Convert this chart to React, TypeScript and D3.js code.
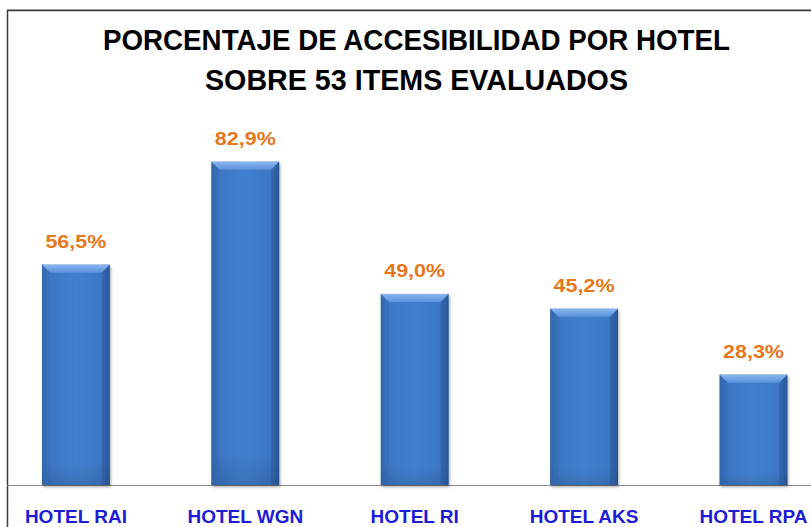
import React from "react";
import * as d3 from "d3";

const categories = ["HOTEL RAI", "HOTEL WGN", "HOTEL RI", "HOTEL AKS", "HOTEL RPA"];
const values = [56.5, 82.9, 49.0, 45.2, 28.3];
const valueLabels = ["56,5%", "82,9%", "49,0%", "45,2%", "28,3%"];
const titleLines = ["PORCENTAJE DE ACCESIBILIDAD POR HOTEL", "SOBRE 53 ITEMS EVALUADOS"];

const W = 811;
const H = 527;
const BASE = 485;

export default function App() {
  const x = d3
    .scaleBand<string>()
    .domain(categories)
    .range([-8.8, 838.2])
    .paddingInner(0.6)
    .paddingOuter(0.3);
  const y = d3.scaleLinear().domain([0, 100]).range([BASE, 95]);
  const bw = x.bandwidth();
  const bev = 8;
  const font = "'Liberation Sans', Arial, sans-serif";

  return (
    <div style={{ position: "fixed", left: 0, top: 0, width: W, height: H, background: "#fff" }}>
      <svg width={W} height={H} style={{ display: "block" }}>
        <defs>
          <linearGradient id="barH" x1="0" x2="1" y1="0" y2="0">
            <stop offset="0" stopColor="#2f63a8" />
            <stop offset="0.08" stopColor="#3c76c3" />
            <stop offset="0.5" stopColor="#4080cf" />
            <stop offset="0.92" stopColor="#3c76c3" />
            <stop offset="1" stopColor="#2c5c9e" />
          </linearGradient>
          <linearGradient id="barV" x1="0" x2="0" y1="0" y2="1">
            <stop offset="0" stopColor="#ffffff" stopOpacity="0" />
            <stop offset="0.9" stopColor="#000000" stopOpacity="0" />
            <stop offset="1" stopColor="#000000" stopOpacity="0.12" />
          </linearGradient>
          <linearGradient id="bevTop" x1="0" x2="0" y1="0" y2="1">
            <stop offset="0" stopColor="#8ab6ee" />
            <stop offset="1" stopColor="#5a92dc" />
          </linearGradient>
          <filter id="shadow" x="-20%" y="-10%" width="140%" height="130%">
            <feGaussianBlur in="SourceAlpha" stdDeviation="1.5" />
            <feOffset dx="1" dy="2" result="b" />
            <feComponentTransfer>
              <feFuncA type="linear" slope="0.35" />
            </feComponentTransfer>
            <feMerge>
              <feMergeNode />
              <feMergeNode in="SourceGraphic" />
            </feMerge>
          </filter>
        </defs>

        {/* chart frame */}
        <line x1={7} x2={W} y1={9.5} y2={9.5} stroke="#bdbdbd" strokeWidth={1} />
        <rect x={7.5} y={10.5} width={W + 10} height={H + 10} fill="none" stroke="#3a3a3a" strokeWidth={1.5} />

        {/* title */}
        <text x={416.5} y={49.5} textAnchor="middle" fontFamily={font} fontWeight="bold" fontSize={29}
          textLength={627} lengthAdjust="spacingAndGlyphs" fill="#000">
          {titleLines[0]}
        </text>
        <text x={416.5} y={90} textAnchor="middle" fontFamily={font} fontWeight="bold" fontSize={29}
          textLength={423} lengthAdjust="spacingAndGlyphs" fill="#000">
          {titleLines[1]}
        </text>

        {/* axis line */}
        <line x1={7} x2={W} y1={BASE + 0.5} y2={BASE + 0.5} stroke="#8c8c8c" strokeWidth={1.2} />

        {/* bars */}
        {categories.map((c, i) => {
          const x0 = x(c)!;
          const top = y(values[i]);
          const h = BASE - top;
          return (
            <g key={c} filter="url(#shadow)">
              <rect x={x0} y={top} width={bw} height={h} fill="url(#barH)" />
              <rect x={x0} y={top} width={bw} height={h} fill="url(#barV)" />
              <polygon
                points={`${x0},${top} ${x0 + bw},${top} ${x0 + bw - bev},${top + bev} ${x0 + bev},${top + bev}`}
                fill="url(#bevTop)"
              />
              <polygon
                points={`${x0},${top} ${x0 + bev},${top + bev} ${x0 + bev},${BASE} ${x0},${BASE}`}
                fill="#3569b0"
                opacity={0.55}
              />
              <polygon
                points={`${x0 + bw},${top} ${x0 + bw - bev},${top + bev} ${x0 + bw - bev},${BASE} ${x0 + bw},${BASE}`}
                fill="#24508f"
                opacity={0.45}
              />
            </g>
          );
        })}

        {/* value labels */}
        {categories.map((c, i) => (
          <text key={c} x={x(c)! + bw / 2} y={y(values[i]) - 16.5} textAnchor="middle" fontFamily={font}
            fontWeight="bold" fontSize={18.5} fill="#e8761b" textLength={61} lengthAdjust="spacingAndGlyphs">
            {valueLabels[i]}
          </text>
        ))}

        {/* category labels */}
        {categories.map((c, i) => (
          <text key={c} x={x(c)! + bw / 2} y={523} textAnchor="middle" fontFamily={font}
            fontWeight="bold" fontSize={19} fill="#1c1cd4">
            {c}
          </text>
        ))}
      </svg>
    </div>
  );
}
